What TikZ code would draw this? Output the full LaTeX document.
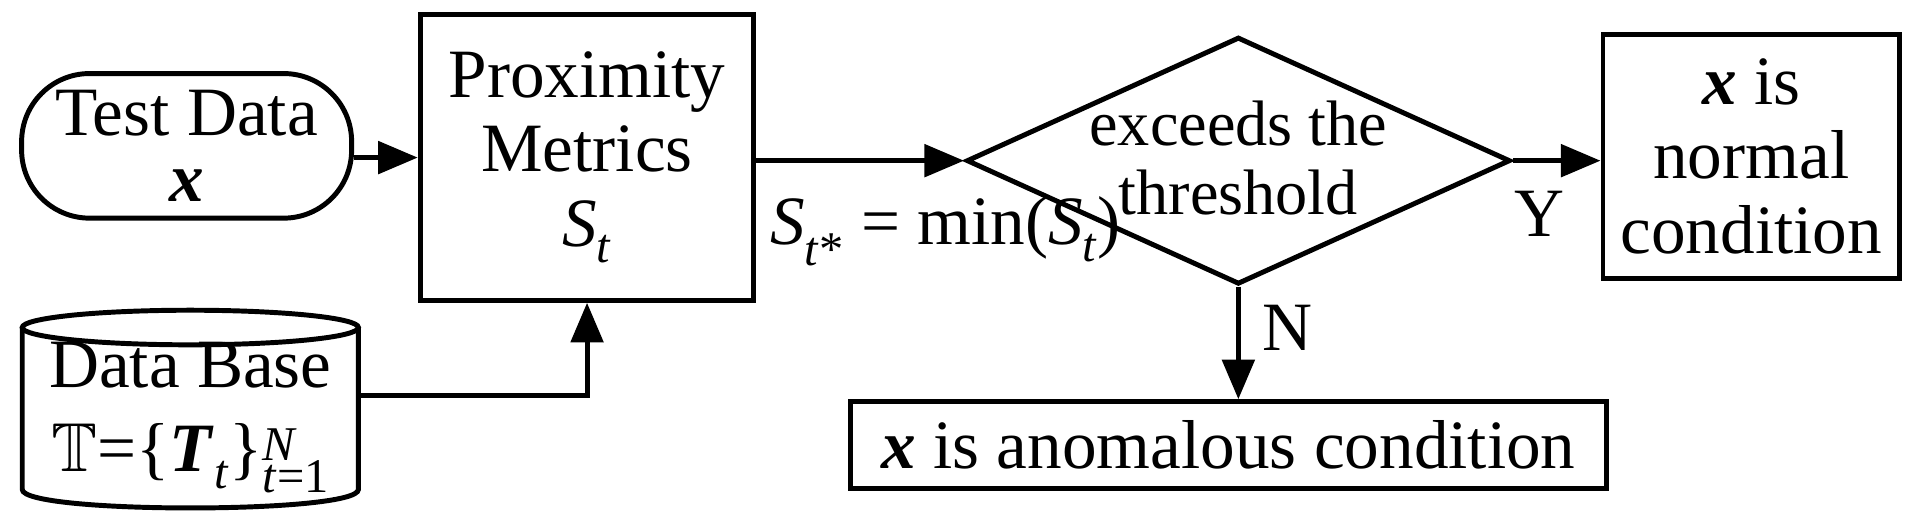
\documentclass[tikz,border=0pt]{standalone}
\usepackage{amssymb}
\usepackage{fontspec}
\setmainfont{Liberation Serif}
\usetikzlibrary{shapes.geometric,arrows.meta}
\newcommand{\St}{\textit{S}\textsubscript{\textit{t}}}
\begin{document}
\begin{tikzpicture}[x=1pt,y=-1pt,
  every node/.style={font=\fontsize{56}{60}\selectfont, inner sep=0pt},
  box/.style={draw, line width=4pt, align=center},
  arr/.style={line width=4pt, -{Triangle[length=32pt,width=26pt]}}]
\useasboundingbox (0,0) rectangle (1560,420.7);
\node[box, rounded corners=55pt, minimum width=267pt, minimum height=117pt, font=\fontsize{56}{54}\selectfont] (td) at (151,118) {Test Data\\\textbf{\textit{x}}};
\node[box, minimum width=270pt, minimum height=231pt] (pm) at (475,127.5) {Proximity\\Metrics\\\St};
\node[box, diamond, aspect=2.2, minimum width=440pt, minimum height=200pt] (dm) at (1002,130) {};
\node[align=center, font=\fontsize{52}{56}\selectfont] (dt) at (1002,128) {exceeds the\\threshold};
\node[box, minimum width=240pt, minimum height=197pt] (nc) at (1417,126.5) {\textbf{\textit{x}} is\\normal\\condition};
\node[box, minimum width=612pt, minimum height=70pt] (an) at (994,360) {\textbf{\textit{x}} is anomalous condition};
% cylinder
\draw[line width=4pt] (154,265) ellipse[x radius=136, y radius=14];
\draw[line width=4pt] (18,265) -- (18,396) .. controls (18,416) and (290,416) .. (290,396) -- (290,265);
\coordinate (dbr) at (290,320);
\node[align=center, font=\fontsize{56}{68}\selectfont] (db) at (154,338) {Data Base\\$\mathbb{T}$=\{\textbf{\textit{T}}\textsubscript{\textit{t}}\}\textsuperscript{\rlap{\textit{N}}}\textsubscript{\textit{t}=1}};
\draw[arr] (td.east |- pm.west) -- (pm.west);
\draw[arr] (dbr) -| (pm.south);
\draw[arr] (pm.east |- dm.west) -- (dm.west);
\draw[arr] (dm.east) -- (dm.east -| nc.west);
\draw[arr] (dm.south) -- (an.north -| dm.south);
\node (lab) at (765,187) {\textit{S}\textsubscript{\textit{t}*} = min(\St)};
\node (y) at (1246,173) {Y};
\node (n) at (1042,265) {N};
\end{tikzpicture}
\end{document}
